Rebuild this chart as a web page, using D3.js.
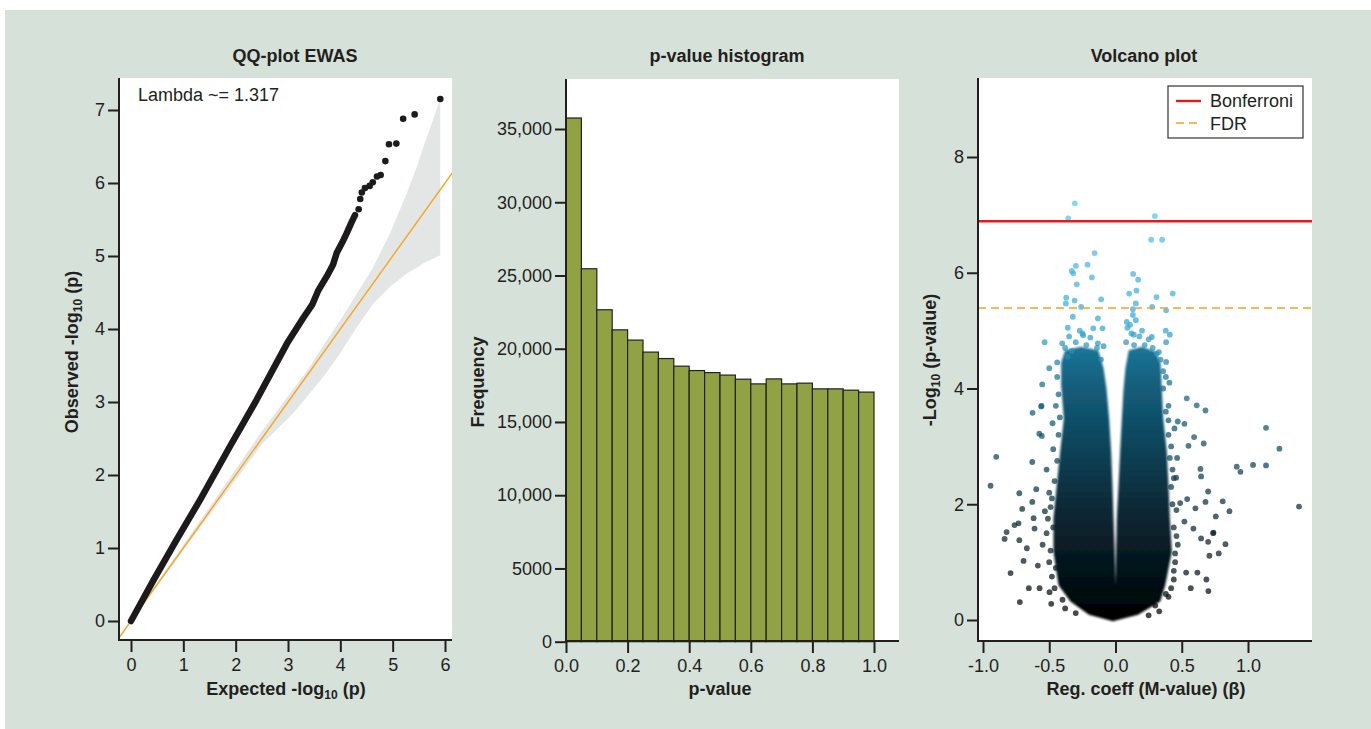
<!DOCTYPE html>
<html>
<head>
<meta charset="utf-8">
<script src="https://cdn.jsdelivr.net/npm/d3@7"></script>
<style>
  body { margin: 0; background: #fff; }
  svg text { font-family: "Liberation Sans", Arial, Helvetica, sans-serif; fill: #231f20; }
</style>
</head>
<body>
<svg id="chart" width="1371" height="729"></svg>
<script>
// ---- QQ plot ----
const qqLineExp = [0, 0.43, 0.87, 1.32, 1.89, 2.40, 2.98, 3.29, 3.46, 3.58, 3.74, 3.86, 3.93, 4.06, 4.12, 4.22, 4.28];
const qqLineObs = [0, 0.56, 1.11, 1.66, 2.39, 3.03, 3.80, 4.15, 4.33, 4.53, 4.72, 4.88, 5.04, 5.22, 5.31, 5.47, 5.56];
const qqTopExp = [4.35, 4.38, 4.41, 4.47, 4.56, 4.62, 4.70, 4.77, 4.86, 4.93, 5.07, 5.20, 5.42, 5.91];
const qqTopObs = [5.64, 5.78, 5.87, 5.93, 5.96, 6.01, 6.09, 6.11, 6.30, 6.53, 6.54, 6.88, 6.94, 7.15];
const bandExp = [0, 1, 2, 2.5, 3.04, 3.36, 3.68, 4.00, 4.32, 4.63, 4.95, 5.27, 5.46, 5.59, 5.91];
const bandHi  = [0.02, 1.04, 2.08, 2.6, 3.12, 3.42, 3.78, 4.12, 4.49, 4.85, 5.31, 5.86, 6.22, 6.5, 7.15];
const bandLo  = [0, 0.97, 1.93, 2.42, 2.80, 3.07, 3.35, 3.67, 4.03, 4.35, 4.58, 4.76, 4.84, 4.90, 5.01];
const qqTicksX = [0, 1, 2, 3, 4, 5, 6];
const qqTicksY = [0, 1, 2, 3, 4, 5, 6, 7];
const lambdaText = "Lambda ~= 1.317";

// ---- histogram ----
const histBins = [0.00, 0.05, 0.10, 0.15, 0.20, 0.25, 0.30, 0.35, 0.40, 0.45,
                  0.50, 0.55, 0.60, 0.65, 0.70, 0.75, 0.80, 0.85, 0.90, 0.95];
const histCounts = [35750, 25460, 22660, 21290, 20590, 19770, 19330, 18810, 18510, 18370,
                    18200, 17920, 17600, 17940, 17600, 17650, 17260, 17260, 17170, 17040];
const binWidth = 0.05;
const histTicksX = [0, 0.2, 0.4, 0.6, 0.8, 1.0];
const histTicksY = [0, 5000, 10000, 15000, 20000, 25000, 30000, 35000];

// ---- volcano ----
const bonferroni = 6.89;
const fdr = 5.39;
// outline of the dense point cloud (beta, -log10 p)
const cloudBeta = [-0.02, -0.20, -0.34, -0.43, -0.468, -0.468, -0.443, -0.417, -0.39, -0.41, -0.41, -0.38, -0.26, -0.13, -0.09, -0.068,
                   -0.048, -0.033, -0.023, -0.015, -0.006, 0.0, 0.005, 0.01, 0.023, 0.035, 0.048, 0.06, 0.075, 0.10, 0.20, 0.30,
                   0.34, 0.35, 0.36, 0.387, 0.40, 0.41, 0.425, 0.375, 0.337, 0.17];
const cloudLogP = [-0.02, 0.09, 0.32, 0.6, 1.18, 1.76, 2.33, 2.91, 3.48, 4.06, 4.45, 4.66, 4.72, 4.66, 4.35, 4.0,
                   3.48, 2.91, 2.33, 1.76, 1.18, 0.6, 1.18, 1.76, 2.33, 2.91, 3.48, 3.97, 4.35, 4.66, 4.72, 4.64,
                   4.44, 3.97, 3.48, 2.91, 2.33, 1.76, 1.18, 0.6, 0.32, 0.09];
const volcanoTop = [[-0.307,7.20],[-0.357,6.94],[0.297,6.98],[0.269,6.57],[0.352,6.57],[-0.158,6.34],[-0.299,6.12],[-0.211,6.14],
  [-0.330,6.03],[-0.319,5.99],[-0.178,5.92],[0.133,5.98],[0.171,5.88],[-0.292,5.80],[0.158,5.69],[0.103,5.64],[0.432,5.64],
  [0.309,5.58],[-0.372,5.57],[-0.375,5.47],[-0.309,5.52],[-0.108,5.54],[-0.259,5.41],[0.153,5.47],[0.277,5.41],[0.382,5.35],
  [0.131,5.37],[0.131,5.27],[-0.133,5.21],[-0.322,5.24],[0.085,5.15],[0.153,5.18],[-0.360,5.05],[-0.098,5.04],[-0.168,5.04],
  [0.379,5.00],[0.410,4.93],[-0.535,4.80],[-0.244,4.92],[0.138,4.93],[0.274,4.89],[0.382,4.80],[0.327,4.63],[0.382,4.46],
  [-0.500,4.35],[-0.553,4.07],[0.407,4.10],[-0.090,4.73],[-0.133,4.78],[-0.402,4.78],
  [-0.36,4.55],[-0.25,4.95],[-0.19,4.88],[-0.33,4.65],[0.12,4.95],[0.18,4.9],[0.25,4.85],[0.31,4.6],[0.09,5.05],
  [-0.38,4.7],[-0.30,4.8],[-0.22,4.75],[-0.14,4.7],[-0.35,4.9],[-0.27,5.0],[-0.11,4.5],[0.08,4.8],[0.14,4.75],
  [0.22,4.75],[0.28,4.7],[0.34,4.5],[0.36,4.3],[0.11,5.1],[0.2,5.0]];
const volcanoLeft = [[-0.900,2.82],[-0.943,2.32],[-0.626,3.58],[-0.561,3.69],[-0.575,3.22],[-0.556,3.18],[-0.475,3.40],
  [-0.628,2.73],[-0.726,2.19],[-0.598,2.26],[-0.628,2.04],[-0.704,1.92],[-0.822,1.52],[-0.837,1.40],[-0.762,1.64],
  [-0.732,1.67],[-0.726,1.38],[-0.694,1.02],[-0.792,0.81],[-0.654,0.55],[-0.573,0.55],[-0.722,0.31],[-0.498,0.48],
  [-0.485,0.28],[-0.618,1.76],[-0.611,1.58],[-0.669,1.24],[-0.586,0.94],[-0.533,1.88],[-0.558,3.70]];
const volcanoRight = [[0.538,3.83],[0.613,3.71],[0.679,3.62],[1.136,3.32],[1.237,2.96],[0.915,2.65],[0.943,2.56],[1.038,2.68],
  [1.136,2.67],[1.385,1.96],[0.593,3.16],[0.666,3.05],[0.551,3.01],[0.641,2.61],[0.646,2.48],[0.699,2.22],[0.809,2.05],
  [0.860,1.88],[0.757,1.79],[0.679,2.04],[0.541,2.09],[0.603,1.93],[0.739,1.51],[0.830,1.31],[0.779,1.15],[0.709,1.11],
  [0.699,1.35],[0.646,1.41],[0.618,0.82],[0.686,0.70],[0.701,0.50],[0.568,0.55],[0.533,0.82],[0.588,1.58],[0.520,1.70],
  [0.488,2.02],[0.458,2.46],[0.465,2.80],[0.520,3.39],[0.470,3.43],[0.445,3.31],[0.737,1.50]];
const volcanoEdge = [[-0.52,1.5],[-0.50,1.0],[-0.48,0.75],[-0.55,1.3],[-0.50,2.2],[-0.52,2.6],[-0.47,2.95],[-0.45,3.7],
  [-0.44,4.2],[0.45,1.0],[0.47,1.3],[0.44,0.7],[0.46,1.9],[0.43,2.6],[0.42,3.0],[0.38,0.45],[0.42,0.55],[0.40,3.7],
  [0.38,4.2],[-0.40,0.35],[0.30,0.25],
  [-0.46,0.55],[-0.49,1.2],[-0.47,1.6],[-0.49,1.95],[-0.46,2.4],[-0.44,2.75],[-0.43,3.2],[-0.42,3.5],[-0.43,3.9],
  [-0.45,0.9],[-0.38,0.2],[-0.30,0.12],[-0.51,1.75],[-0.48,2.1],[-0.44,4.45],
  [0.44,0.85],[0.45,1.15],[0.44,1.6],[0.43,2.0],[0.42,2.3],[0.41,2.8],[0.40,3.2],[0.38,3.6],[0.36,4.0],
  [0.40,0.4],[0.33,0.15],[0.25,0.08],[0.46,1.45],[0.44,2.45],[0.40,3.45]];
const volTicksX = [-1.0, -0.5, 0.0, 0.5, 1.0];
const volTicksY = [0, 2, 4, 6, 8];
const legendItems = ["Bonferroni", "FDR"];

const ink = "#231f20";
const svg = d3.select("#chart");

svg.append("rect")
    .attr("x", 5).attr("y", 10)
    .attr("width", 1366).attr("height", 719)
    .attr("fill", "#d6e1d9");

function plotBox(box) {
    svg.append("rect")
        .attr("x", box.left).attr("y", box.top)
        .attr("width", box.right - box.left).attr("height", box.bottom - box.top)
        .attr("fill", "#fff");
}

function drawAxes(box, x, y, xTicks, yTicks, xFmt, yFmt) {
    const gx = svg.append("g")
        .attr("transform", `translate(0,${box.bottom})`)
        .call(d3.axisBottom(x).tickValues(xTicks).tickFormat(xFmt).tickSize(12).tickPadding(6).tickSizeOuter(0));
    const gy = svg.append("g")
        .attr("transform", `translate(${box.left},0)`)
        .call(d3.axisLeft(y).tickValues(yTicks).tickFormat(yFmt).tickSize(11).tickPadding(3).tickSizeOuter(0));

    [gx, gy].forEach(g => {
        g.select(".domain").remove();
        g.attr("font-size", 18)
            .attr("font-family", "Liberation Sans, Arial, sans-serif")
            .attr("color", ink);
        g.selectAll(".tick line").attr("stroke-width", 2);
    });

    svg.append("path")
        .attr("d", `M${box.left},${box.top}V${box.bottom}H${box.right}`)
        .attr("fill", "none")
        .attr("stroke", ink)
        .attr("stroke-width", 2);
}

function title(text, cx) {
    svg.append("text")
        .attr("x", cx).attr("y", 62)
        .attr("text-anchor", "middle")
        .attr("font-size", 18).attr("font-weight", "bold")
        .text(text);
}

// label with a subscript "10"; rotate for y labels
function subLabel(before, after, x, y, rotate) {
    const t = svg.append("text")
        .attr("text-anchor", "middle")
        .attr("font-size", 18).attr("font-weight", "bold")
        .attr("transform", rotate ? `translate(${x},${y}) rotate(-90)` : `translate(${x},${y})`);
    t.append("tspan").text(before);
    t.append("tspan").attr("font-size", 12).attr("dy", 4).text("10");
    t.append("tspan").attr("dy", -4).text(after);
}

// ================= QQ plot =================
const qqBox = { left: 119, right: 452, top: 78, bottom: 640 };
const xQ = d3.scaleLinear().domain([0, 6]).range([131, 445]);
const yQ = d3.scaleLinear().domain([0, 7]).range([621, 110]);

plotBox(qqBox);
svg.append("clipPath").attr("id", "qqclip")
    .append("rect")
    .attr("x", qqBox.left).attr("y", qqBox.top)
    .attr("width", qqBox.right - qqBox.left).attr("height", qqBox.bottom - qqBox.top);

const qqG = svg.append("g").attr("clip-path", "url(#qqclip)");

qqG.append("path")
    .datum(bandExp.map((e, i) => [e, bandLo[i], bandHi[i]]))
    .attr("d", d3.area().x(d => xQ(d[0])).y0(d => yQ(d[1])).y1(d => yQ(d[2])))
    .attr("fill", "#e4e6e5");

qqG.append("line")
    .attr("x1", xQ(-0.5)).attr("y1", yQ(-0.5))
    .attr("x2", xQ(7)).attr("y2", yQ(7))
    .attr("stroke", "#f5a623").attr("stroke-width", 1.4);

qqG.append("path")
    .datum(qqLineExp.map((e, i) => [e, qqLineObs[i]]))
    .attr("d", d3.line().x(d => xQ(d[0])).y(d => yQ(d[1])))
    .attr("fill", "none")
    .attr("stroke", "#1c1a1b")
    .attr("stroke-width", 6.5)
    .attr("stroke-linecap", "round")
    .attr("stroke-linejoin", "round");

qqG.selectAll("circle.top")
    .data(qqTopExp.map((e, i) => [e, qqTopObs[i]]))
    .join("circle")
    .attr("class", "top")
    .attr("cx", d => xQ(d[0]))
    .attr("cy", d => yQ(d[1]))
    .attr("r", 3.3)
    .attr("fill", "#1c1a1b");

svg.append("text")
    .attr("x", 138).attr("y", 101)
    .attr("font-size", 18)
    .text(lambdaText);

drawAxes(qqBox, xQ, yQ, qqTicksX, qqTicksY, d3.format("d"), d3.format("d"));
title("QQ-plot EWAS", 295);
subLabel("Expected -log", " (p)", 286, 695, false);
subLabel("Observed -log", " (p)", 78, 352, true);

// ================= histogram =================
const histBox = { left: 566, right: 899, top: 79, bottom: 641 };
const xH = d3.scaleLinear().domain([0, 1]).range([566, 874]);
const yH = d3.scaleLinear().domain([0, 35000]).range([641.7, 129]);

plotBox(histBox);
svg.append("g")
    .selectAll("rect")
    .data(histBins.map((b, i) => ({ x0: b, n: histCounts[i] })))
    .join("rect")
    .attr("x", d => xH(d.x0))
    .attr("y", d => yH(d.n))
    .attr("width", d => xH(d.x0 + binWidth) - xH(d.x0))
    .attr("height", d => yH(0) - yH(d.n))
    .attr("fill", "#91a244")
    .attr("stroke", "#222")
    .attr("stroke-width", 1.2);

drawAxes(histBox, xH, yH, histTicksX, histTicksY, d => d.toFixed(1),
    d => d < 10000 ? String(d) : d3.format(",")(d));
title("p-value histogram", 727);
svg.append("text")
    .attr("x", 720).attr("y", 695)
    .attr("text-anchor", "middle")
    .attr("font-size", 18).attr("font-weight", "bold")
    .text("p-value");
svg.append("text")
    .attr("transform", "translate(484,382) rotate(-90)")
    .attr("text-anchor", "middle")
    .attr("font-size", 18).attr("font-weight", "bold")
    .text("Frequency");

// ================= volcano =================
const volBox = { left: 978, right: 1312, top: 78, bottom: 641 };
const xV = d3.scaleLinear().domain([-1, 1]).range([983, 1248]);
const yV = d3.scaleLinear().domain([0, 8]).range([620, 157]);
const colorV = d3.scaleLinear()
    .domain([0, 0.8, 2, 3, 4, 5, 7.2])
    .range(["#000000", "#05151b", "#0b2f3e", "#0f4a62", "#176886", "#35a5d0", "#5ac6ee"])
    .clamp(true);
const cloudColor = d3.scaleLinear()
    .domain([0, 0.8, 2, 3, 4, 4.7])
    .range(["#000000", "#051318", "#0a2a38", "#0e4459", "#135d7a", "#1b7596"]);

plotBox(volBox);

const defs = svg.append("defs");
const grad = defs.append("linearGradient")
    .attr("id", "cloudGrad")
    .attr("gradientUnits", "userSpaceOnUse")
    .attr("x1", 0).attr("x2", 0)
    .attr("y1", yV(0)).attr("y2", yV(4.7));
cloudColor.domain().forEach(v => {
    grad.append("stop").attr("offset", v / 4.7).attr("stop-color", cloudColor(v));
});
defs.append("filter").attr("id", "soft")
    .append("feGaussianBlur").attr("stdDeviation", 0.9);

svg.append("path")
    .datum(cloudBeta.map((b, i) => [b, cloudLogP[i]]))
    .attr("d", d3.line().x(d => xV(d[0])).y(d => yV(d[1])).curve(d3.curveLinearClosed))
    .attr("fill", "url(#cloudGrad)")
    .attr("filter", "url(#soft)");

svg.append("g")
    .selectAll("circle")
    .data([...volcanoEdge, ...volcanoLeft, ...volcanoRight, ...volcanoTop])
    .join("circle")
    .attr("cx", d => xV(d[0]))
    .attr("cy", d => yV(d[1]))
    .attr("r", 2.9)
    .attr("fill", d => colorV(d[1]))
    .attr("fill-opacity", 0.72);

svg.append("line")
    .attr("x1", volBox.left).attr("x2", volBox.right)
    .attr("y1", yV(bonferroni)).attr("y2", yV(bonferroni))
    .attr("stroke", "#e31a1c").attr("stroke-width", 2.4);
svg.append("line")
    .attr("x1", volBox.left).attr("x2", volBox.right)
    .attr("y1", yV(fdr)).attr("y2", yV(fdr))
    .attr("stroke", "#f7a11a").attr("stroke-width", 1.6)
    .attr("stroke-dasharray", "8,5");

// legend
const lg = svg.append("g").attr("transform", "translate(1168,86)");
lg.append("rect")
    .attr("width", 135).attr("height", 52)
    .attr("fill", "#fff").attr("stroke", "#333").attr("stroke-width", 1.2);
lg.append("line").attr("x1", 8).attr("x2", 33).attr("y1", 15).attr("y2", 15)
    .attr("stroke", "#e31a1c").attr("stroke-width", 2.4);
lg.append("line").attr("x1", 8).attr("x2", 33).attr("y1", 37).attr("y2", 37)
    .attr("stroke", "#f7a11a").attr("stroke-width", 1.6).attr("stroke-dasharray", "8,5");
lg.selectAll("text")
    .data(legendItems)
    .join("text")
    .attr("x", 42)
    .attr("y", (d, i) => 21 + i * 23)
    .attr("font-size", 18)
    .text(d => d);

// plain hyphen for negatives, as in the original figure
drawAxes(volBox, xV, yV, volTicksX, volTicksY, d => d.toFixed(1), d3.format("d"));
title("Volcano plot", 1144);
svg.append("text")
    .attr("x", 1146).attr("y", 695)
    .attr("text-anchor", "middle")
    .attr("font-size", 18).attr("font-weight", "bold")
    .text("Reg. coeff (M-value) (\u03b2)");
subLabel("-Log", " (p-value)", 936, 360, true);
</script>
</body>
</html>
